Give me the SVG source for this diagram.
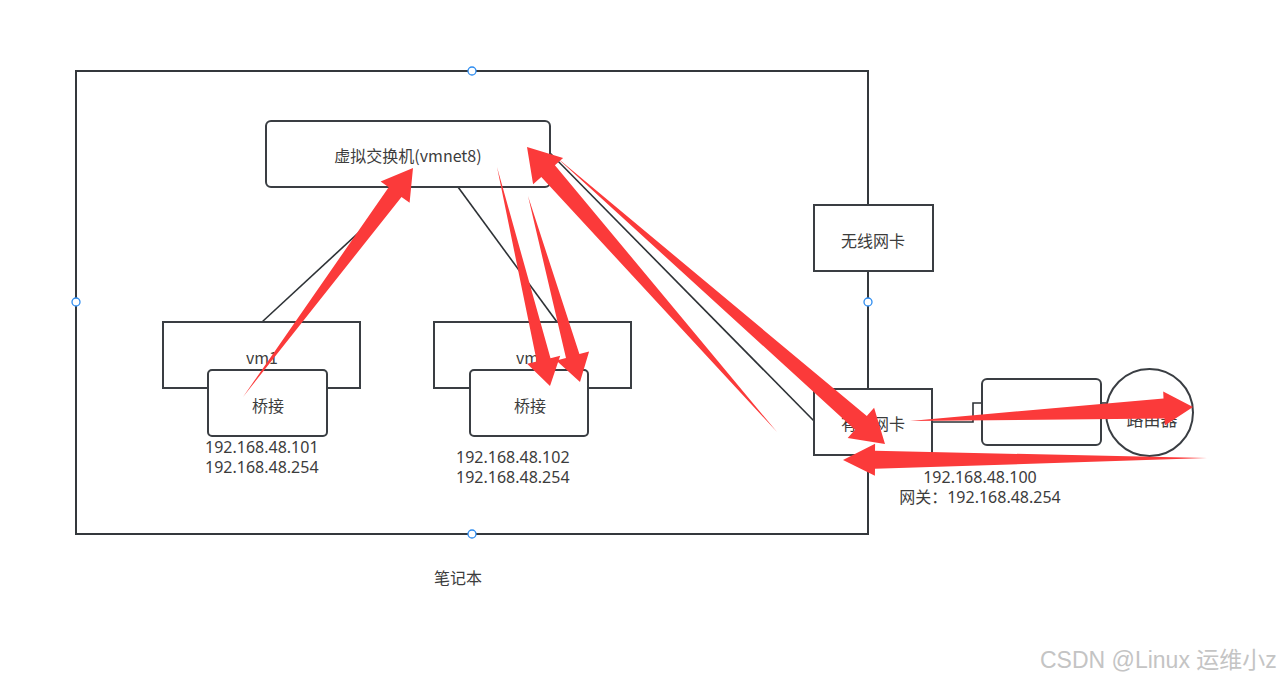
<svg xmlns="http://www.w3.org/2000/svg" width="1280" height="681" viewBox="0 0 1280 681">
<style>
.box{fill:#fff;stroke:#3a3e43;stroke-width:2}
.ln{fill:none;stroke:#2e3236;stroke-width:1.6}
.t{font-family:"Noto Sans CJK SC","Noto Sans",sans-serif;font-size:16px;fill:#3c3c3c;text-anchor:middle;dominant-baseline:central}
.ip{font-family:"Noto Sans","Noto Sans CJK SC",sans-serif;font-size:16px;fill:#3c3c3c}
.h{fill:#fff;stroke:#2d8cf0;stroke-width:1.3}
.arr{fill:#fb3a3a}
</style>
<rect width="1280" height="681" fill="#fff"/>
<g id="laptop">
<rect x="76" y="71" width="792" height="463" fill="none" stroke="#34383c" stroke-width="2"/>
<circle class="h" cx="472" cy="71" r="4"/>
<circle class="h" cx="76" cy="302" r="4"/>
<circle class="h" cx="868" cy="302" r="4"/>
<circle class="h" cx="472" cy="534" r="4"/>
<text class="t" x="458" y="577">笔记本</text>
</g>
<g id="connectors">
<line class="ln" x1="408" y1="187" x2="262" y2="322"/>
<line class="ln" x1="458" y1="187" x2="557" y2="322"/>
<line class="ln" x1="550" y1="153" x2="814" y2="421"/>
<polyline class="ln" points="932,422 973,422 973,403 982,403"/>
<line class="ln" x1="1101" y1="403" x2="1106" y2="403"/>
</g>
<g id="switch">
<rect class="box" x="266" y="121" width="284" height="66" rx="5"/>
<text class="t" x="408" y="155">虚拟交换机(vmnet8)</text>
</g>
<g id="vm1">
<rect class="box" x="163" y="322" width="197" height="66"/>
<text class="t" x="262" y="357">vm1</text>
</g>
<g id="bridge1">
<rect class="box" x="208" y="370" width="119" height="66" rx="4"/>
<text class="t" x="268" y="405">桥接</text>
<text class="ip" x="205" y="453">192.168.48.101</text>
<text class="ip" x="205" y="473">192.168.48.254</text>
</g>
<g id="vm2">
<rect class="box" x="434" y="322" width="197" height="66"/>
<text class="t" x="532" y="357">vm2</text>
</g>
<g id="bridge2">
<rect class="box" x="470" y="370" width="118" height="66" rx="4"/>
<text class="t" x="530" y="405">桥接</text>
<text class="ip" x="456" y="463">192.168.48.102</text>
<text class="ip" x="456" y="483">192.168.48.254</text>
</g>
<g id="wifi">
<rect class="box" x="814" y="205" width="119" height="66"/>
<text class="t" x="873" y="240">无线网卡</text>
</g>
<g id="eth">
<rect class="box" x="814" y="389" width="118" height="66"/>
<text class="t" x="873" y="423">有线网卡</text>
<text class="ip" x="980" y="483" text-anchor="middle">192.168.48.100</text>
<text class="ip" x="980" y="503" text-anchor="middle">网关：192.168.48.254</text>
</g>
<g id="modem">
<rect class="box" x="982" y="379" width="119" height="66" rx="5"/>
</g>
<g id="router">
<circle class="box" cx="1149.5" cy="412.5" r="43.5"/>
<text class="t" x="1152" y="418" style="font-size:17px">路由器</text>
</g>
<g id="arrows">
<polygon class="arr" points="243,397 401.5,196.9 409.6,202.8 413,168 380.6,181.4 388.7,187.3"/>
<polygon class="arr" points="497,167 536.8,361.4 527.1,363.8 550,386 560.2,355.8 550.5,358.2"/>
<polygon class="arr" points="528,196 566.0,357.9 556.3,360.6 580,382 589.1,351.4 579.4,354.1"/>
<polygon class="arr" points="777,432 554.9,165.2 563.1,157.9 527,147 533.1,184.3 541.3,177.0"/>
<polygon class="arr" points="555,156 855.0,429.7 847.7,438.0 885,444 874.1,407.8 866.8,416.1"/>
<polygon class="arr" points="910,421 1164.5,418.4 1164.8,425.4 1193,407 1163.2,391.4 1163.5,398.4"/>
<polygon class="arr" points="1207,458 875,450.8 875.1,443.8 843,460 874.9,475.8 875,468.8"/>
</g>
<text x="1040" y="668" font-family="Liberation Sans,Noto Sans CJK SC,sans-serif" font-size="23" fill="#c4c4c4">CSDN @Linux 运维小z</text>
</svg>
